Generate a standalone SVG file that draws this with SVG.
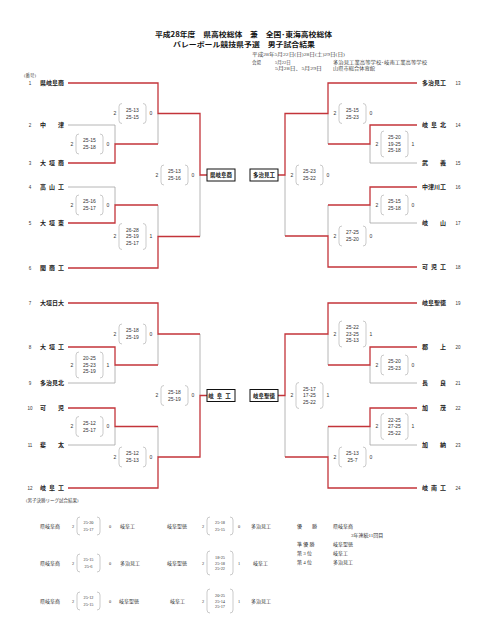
<svg xmlns="http://www.w3.org/2000/svg" width="480" height="640" viewBox="0 0 480 640">
<style>
.r{stroke:#c3343a;stroke-width:1.3;fill:none}
.g{stroke:#a3a3a3;stroke-width:0.8;fill:none}
.pa{stroke:#b5b5b5;stroke-width:0.7;fill:none}
.nm{font-family:'Noto Sans CJK JP',sans-serif;font-size:6px;font-weight:bold;fill:#222}
.no{font-family:'Liberation Sans',sans-serif;font-size:4.5px;fill:#333;text-anchor:middle}
.sc{font-family:'Liberation Sans',sans-serif;font-size:5px;fill:#333;text-anchor:middle}
.sn{font-family:'Liberation Sans',sans-serif;font-size:5px;fill:#333;text-anchor:middle}
.bx{fill:#fff;stroke:#111;stroke-width:1}
.bt{font-family:'Noto Sans CJK JP',sans-serif;font-size:5.5px;font-weight:bold;fill:#111;text-anchor:middle}
.hd{font-family:'Noto Sans CJK JP',sans-serif;font-size:7px;font-weight:bold;fill:#111}
.sm{font-family:'Liberation Serif','Noto Sans CJK JP',serif;font-size:4.5px;fill:#444}
.ft{font-family:'Liberation Serif','Noto Sans CJK JP',serif;font-size:5px;fill:#333}
.fs{font-family:'Liberation Serif','Noto Sans CJK JP',serif;font-size:4.3px;fill:#333;text-anchor:middle}
</style>
<rect width="480" height="640" fill="#fff"/>

<g id="header">
<text class="hd" x="155" y="37" textLength="177" lengthAdjust="spacingAndGlyphs">平成28年度　県高校総体　兼　全国･東海高校総体</text>
<text class="hd" x="173" y="47" textLength="142" lengthAdjust="spacingAndGlyphs">バレーボール競技県予選　男子試合結果</text>
<text class="sm" x="252" y="55.8" textLength="93" lengthAdjust="spacingAndGlyphs">平成28年5月22日(日)28日(土)29日(日)</text>
<text class="sm" x="252" y="63.6">会場</text>
<text class="sm" x="275" y="63.6">5月22日</text>
<text class="sm" x="333" y="63.6" textLength="94" lengthAdjust="spacingAndGlyphs">多治見工業高等学校･岐南工業高等学校</text>
<text class="sm" x="275" y="69.6" textLength="47" lengthAdjust="spacingAndGlyphs">5月28日、5月29日</text>
<text class="sm" x="333" y="69.6" textLength="42" lengthAdjust="spacingAndGlyphs">山県市総合体育館</text>
<text class="sm" x="24" y="76.5">(番号)</text>
</g>

<g id="connectors">
<path class="g" d="M68 125H115M68 187H115M68 383H115M68 445H115M115 125V144M158 113.5V144M115 187V205M158 205V236.5M200 175V236.5M115 365V383M158 334V365M115 426.5V445M158 426.5V457M200 334V395.5"/>
<path class="g" d="M370 163H417M370 223H417M370 383H417M370 445H417M370 144V163M328 113.5V144M370 205V223M328 205V236M285 175V236M370 365V383M328 334V365M370 426.5V445M328 426.5V457M285 395.5V457"/>
<path class="r" d="M68 83H158V113.5H200V175H207M68 163H115V144H158M68 223H115V205H158M68 268H158V236.5H200"/>
<path class="r" d="M68 303H158V334H200M68 347H115V365H158M68 408H115V426.5H158M68 488H158V457H200V395.5H207"/>
<path class="r" d="M417 83H328V113.5H285V175H277M417 125H370V144H328M417 187H370V205H328M417 267H328V236H285"/>
<path class="r" d="M417 303H328V334H285V395.5H277M417 347H370V365H328M417 408H370V426.5H328M417 488H328V457H285"/>
</g>

<g id="t1"><text class="no" x="30" y="84.6">1</text><text class="nm" x="40" y="85.1">県岐阜商</text></g>
<g id="t2"><text class="no" x="30" y="126.6">2</text><text class="nm" x="40 58" y="127.1">中津</text></g>
<g id="t3"><text class="no" x="30" y="164.6">3</text><text class="nm" x="40 49 58" y="165.1">大垣商</text></g>
<g id="t4"><text class="no" x="30" y="188.6">4</text><text class="nm" x="40 49 58" y="189.1">高山工</text></g>
<g id="t5"><text class="no" x="30" y="224.6">5</text><text class="nm" x="40 49 58" y="225.1">大垣東</text></g>
<g id="t6"><text class="no" x="30" y="269.6">6</text><text class="nm" x="40 49 58" y="270.1">関商工</text></g>
<g id="t7"><text class="no" x="30" y="304.6">7</text><text class="nm" x="40" y="305.1">大垣日大</text></g>
<g id="t8"><text class="no" x="30" y="348.6">8</text><text class="nm" x="40 49 58" y="349.1">大垣工</text></g>
<g id="t9"><text class="no" x="30" y="384.6">9</text><text class="nm" x="40" y="385.1">多治見北</text></g>
<g id="t10"><text class="no" x="30" y="409.6">10</text><text class="nm" x="40 58" y="410.1">可児</text></g>
<g id="t11"><text class="no" x="30" y="446.6">11</text><text class="nm" x="40 58" y="447.1">斐太</text></g>
<g id="t12"><text class="no" x="30" y="489.6">12</text><text class="nm" x="40 49 58" y="490.1">岐阜工</text></g>

<g id="t13"><text class="nm" x="422" y="85.1">多治見工</text><text class="no" x="458" y="84.6">13</text></g>
<g id="t14"><text class="nm" x="422 431 440" y="127.1">岐阜北</text><text class="no" x="458" y="126.6">14</text></g>
<g id="t15"><text class="nm" x="422 440" y="165.1">武義</text><text class="no" x="458" y="164.6">15</text></g>
<g id="t16"><text class="nm" x="422" y="189.1">中津川工</text><text class="no" x="458" y="188.6">16</text></g>
<g id="t17"><text class="nm" x="422 440" y="225.1">岐山</text><text class="no" x="458" y="224.6">17</text></g>
<g id="t18"><text class="nm" x="422 431 440" y="269.1">可児工</text><text class="no" x="458" y="268.6">18</text></g>
<g id="t19"><text class="nm" x="422" y="305.1">岐阜聖徳</text><text class="no" x="458" y="304.6">19</text></g>
<g id="t20"><text class="nm" x="422 440" y="349.1">郡上</text><text class="no" x="458" y="348.6">20</text></g>
<g id="t21"><text class="nm" x="422 440" y="385.1">長良</text><text class="no" x="458" y="384.6">21</text></g>
<g id="t22"><text class="nm" x="422 440" y="410.1">加茂</text><text class="no" x="458" y="409.6">22</text></g>
<g id="t23"><text class="nm" x="422 440" y="447.1">加納</text><text class="no" x="458" y="446.6">23</text></g>
<g id="t24"><text class="nm" x="422 431 440" y="490.1">岐南工</text><text class="no" x="458" y="489.6">24</text></g>

<g id="w1"><rect class="bx" x="207" y="169" width="28" height="12"/><text class="bt" x="221" y="177">県岐阜商</text></g>
<g id="w2"><rect class="bx" x="250" y="169" width="28" height="12"/><text class="bt" x="264" y="177">多治見工</text></g>
<g id="w3"><rect class="bx" x="207" y="389.5" width="28" height="12"/><text class="bt" x="221" y="397.5" letter-spacing="3">岐阜工</text></g>
<g id="w4"><rect class="bx" x="250" y="389.5" width="28" height="12"/><text class="bt" x="264" y="397.5">岐阜聖徳</text></g>

<g id="mA"><text class="sn" x="72" y="145.6">2</text><path class="pa" d="M79 134Q76 134 76 137L76 151Q76 154 79 154M100 134Q103 134 103 137L103 151Q103 154 100 154"/><text class="sc"><tspan x="89.5" y="142">25-15</tspan><tspan x="89.5" y="149">25-18</tspan></text><text class="sn" x="108" y="145.6">0</text></g>
<g id="mB"><text class="sn" x="115" y="115.1">2</text><path class="pa" d="M122 103.5Q119 103.5 119 106.5L119 120.5Q119 123.5 122 123.5M143 103.5Q146 103.5 146 106.5L146 120.5Q146 123.5 143 123.5"/><text class="sc"><tspan x="132.5" y="111.5">25-13</tspan><tspan x="132.5" y="118.5">25-15</tspan></text><text class="sn" x="151" y="115.1">0</text></g>
<g id="mC"><text class="sn" x="72" y="206.6">2</text><path class="pa" d="M79 195Q76 195 76 198L76 212Q76 215 79 215M100 195Q103 195 103 198L103 212Q103 215 100 215"/><text class="sc"><tspan x="89.5" y="203">25-16</tspan><tspan x="89.5" y="210">25-17</tspan></text><text class="sn" x="108" y="206.6">0</text></g>
<g id="mD"><text class="sn" x="115" y="238.1">2</text><path class="pa" d="M122 223.5Q119 223.5 119 226.5L119 246.5Q119 249.5 122 249.5M143 223.5Q146 223.5 146 226.5L146 246.5Q146 249.5 143 249.5"/><text class="sc"><tspan x="132.5" y="231.7">26-28</tspan><tspan x="132.5" y="238.2">25-19</tspan><tspan x="132.5" y="244.7">25-17</tspan></text><text class="sn" x="151" y="238.1">1</text></g>
<g id="mLS1"><text class="sn" x="157" y="176.6">2</text><path class="pa" d="M164 165Q161 165 161 168L161 182Q161 185 164 185M185 165Q188 165 188 168L188 182Q188 185 185 185"/><text class="sc"><tspan x="174.5" y="173">25-13</tspan><tspan x="174.5" y="180">25-16</tspan></text><text class="sn" x="193" y="176.6">0</text></g>
<g id="mE"><text class="sn" x="72" y="366.6">2</text><path class="pa" d="M79 352Q76 352 76 355L76 375Q76 378 79 378M100 352Q103 352 103 355L103 375Q103 378 100 378"/><text class="sc"><tspan x="89.5" y="360.2">20-25</tspan><tspan x="89.5" y="366.7">25-23</tspan><tspan x="89.5" y="373.2">25-19</tspan></text><text class="sn" x="108" y="366.6">1</text></g>
<g id="mF"><text class="sn" x="115" y="335.6">2</text><path class="pa" d="M122 324Q119 324 119 327L119 341Q119 344 122 344M143 324Q146 324 146 327L146 341Q146 344 143 344"/><text class="sc"><tspan x="132.5" y="332">25-18</tspan><tspan x="132.5" y="339">25-19</tspan></text><text class="sn" x="151" y="335.6">0</text></g>
<g id="mG"><text class="sn" x="72" y="428.1">2</text><path class="pa" d="M79 416.5Q76 416.5 76 419.5L76 433.5Q76 436.5 79 436.5M100 416.5Q103 416.5 103 419.5L103 433.5Q103 436.5 100 436.5"/><text class="sc"><tspan x="89.5" y="424.5">25-12</tspan><tspan x="89.5" y="431.5">25-17</tspan></text><text class="sn" x="108" y="428.1">0</text></g>
<g id="mH"><text class="sn" x="115" y="458.6">2</text><path class="pa" d="M122 447Q119 447 119 450L119 464Q119 467 122 467M143 447Q146 447 146 450L146 464Q146 467 143 467"/><text class="sc"><tspan x="132.5" y="455">25-12</tspan><tspan x="132.5" y="462">25-13</tspan></text><text class="sn" x="151" y="458.6">0</text></g>
<g id="mLS2"><text class="sn" x="157" y="397.1">2</text><path class="pa" d="M164 385.5Q161 385.5 161 388.5L161 402.5Q161 405.5 164 405.5M185 385.5Q188 385.5 188 388.5L188 402.5Q188 405.5 185 405.5"/><text class="sc"><tspan x="174.5" y="393.5">25-18</tspan><tspan x="174.5" y="400.5">25-19</tspan></text><text class="sn" x="193" y="397.1">0</text></g>

<g id="mRA"><text class="sn" x="377" y="145.6">2</text><path class="pa" d="M384 131Q381 131 381 134L381 154Q381 157 384 157M405 131Q408 131 408 134L408 154Q408 157 405 157"/><text class="sc"><tspan x="394.5" y="139.2">25-20</tspan><tspan x="394.5" y="145.7">19-25</tspan><tspan x="394.5" y="152.2">25-18</tspan></text><text class="sn" x="413" y="145.6">1</text></g>
<g id="mRB"><text class="sn" x="335" y="115.1">2</text><path class="pa" d="M342 103.5Q339 103.5 339 106.5L339 120.5Q339 123.5 342 123.5M363 103.5Q366 103.5 366 106.5L366 120.5Q366 123.5 363 123.5"/><text class="sc"><tspan x="352.5" y="111.5">25-15</tspan><tspan x="352.5" y="118.5">25-23</tspan></text><text class="sn" x="371" y="115.1">0</text></g>
<g id="mRC"><text class="sn" x="377" y="206.6">2</text><path class="pa" d="M384 195Q381 195 381 198L381 212Q381 215 384 215M405 195Q408 195 408 198L408 212Q408 215 405 215"/><text class="sc"><tspan x="394.5" y="203">25-15</tspan><tspan x="394.5" y="210">25-18</tspan></text><text class="sn" x="413" y="206.6">0</text></g>
<g id="mRD"><text class="sn" x="335" y="237.6">2</text><path class="pa" d="M342 226Q339 226 339 229L339 243Q339 246 342 246M363 226Q366 226 366 229L366 243Q366 246 363 246"/><text class="sc"><tspan x="352.5" y="234">27-25</tspan><tspan x="352.5" y="241">25-20</tspan></text><text class="sn" x="371" y="237.6">0</text></g>
<g id="mRS1"><text class="sn" x="292" y="176.6">2</text><path class="pa" d="M299 165Q296 165 296 168L296 182Q296 185 299 185M320 165Q323 165 323 168L323 182Q323 185 320 185"/><text class="sc"><tspan x="309.5" y="173">25-23</tspan><tspan x="309.5" y="180">25-22</tspan></text><text class="sn" x="328" y="176.6">0</text></g>
<g id="mRE"><text class="sn" x="377" y="366.6">2</text><path class="pa" d="M384 355Q381 355 381 358L381 372Q381 375 384 375M405 355Q408 355 408 358L408 372Q408 375 405 375"/><text class="sc"><tspan x="394.5" y="363">25-20</tspan><tspan x="394.5" y="370">25-23</tspan></text><text class="sn" x="413" y="366.6">0</text></g>
<g id="mRF"><text class="sn" x="335" y="335.6">2</text><path class="pa" d="M342 321Q339 321 339 324L339 344Q339 347 342 347M363 321Q366 321 366 324L366 344Q366 347 363 347"/><text class="sc"><tspan x="352.5" y="329.2">25-22</tspan><tspan x="352.5" y="335.7">23-25</tspan><tspan x="352.5" y="342.2">25-13</tspan></text><text class="sn" x="371" y="335.6">1</text></g>
<g id="mRG"><text class="sn" x="377" y="428.1">2</text><path class="pa" d="M384 413.5Q381 413.5 381 416.5L381 436.5Q381 439.5 384 439.5M405 413.5Q408 413.5 408 416.5L408 436.5Q408 439.5 405 439.5"/><text class="sc"><tspan x="394.5" y="421.7">22-25</tspan><tspan x="394.5" y="428.2">27-25</tspan><tspan x="394.5" y="434.7">25-22</tspan></text><text class="sn" x="413" y="428.1">1</text></g>
<g id="mRH"><text class="sn" x="335" y="458.6">2</text><path class="pa" d="M342 447Q339 447 339 450L339 464Q339 467 342 467M363 447Q366 447 366 450L366 464Q366 467 363 467"/><text class="sc"><tspan x="352.5" y="455">25-13</tspan><tspan x="352.5" y="462">25-7</tspan></text><text class="sn" x="371" y="458.6">0</text></g>
<g id="mRS2"><text class="sn" x="292" y="397.1">2</text><path class="pa" d="M299 382.5Q296 382.5 296 385.5L296 405.5Q296 408.5 299 408.5M320 382.5Q323 382.5 323 385.5L323 405.5Q323 408.5 320 408.5"/><text class="sc"><tspan x="309.5" y="390.7">25-17</tspan><tspan x="309.5" y="397.2">17-25</tspan><tspan x="309.5" y="403.7">25-22</tspan></text><text class="sn" x="328" y="397.1">1</text></g>

<g id="final-league">
<text class="sm" x="26" y="501.5">(男子決勝リーグ試合結果)</text>
<g id="f1">
<text class="ft" x="40" y="528">県岐阜商</text><text class="fs" x="73" y="527.6">2</text>
<path class="pa" d="M80 517Q77 517 77 520L77 532Q77 535 80 535M97 517Q100 517 100 520L100 532Q100 535 97 535"/>
<text class="fs"><tspan x="88.5" y="524.4">25-20</tspan><tspan x="88.5" y="530.8">25-17</tspan></text>
<text class="fs" x="110" y="527.6">0</text><text class="ft" x="120" y="528">岐阜工</text>
</g>
<g id="f2">
<text class="ft" x="167" y="528">岐阜聖徳</text><text class="fs" x="203" y="527.6">2</text>
<path class="pa" d="M210 517Q207 517 207 520L207 532Q207 535 210 535M230 517Q233 517 233 520L233 532Q233 535 230 535"/>
<text class="fs"><tspan x="220" y="524.4">25-18</tspan><tspan x="220" y="530.8">25-15</tspan></text>
<text class="fs" x="239" y="527.6">0</text><text class="ft" x="251" y="528">多治見工</text>
</g>
<g id="f3">
<text class="ft" x="40" y="565">県岐阜商</text><text class="fs" x="73" y="564.6">2</text>
<path class="pa" d="M80 554Q77 554 77 557L77 569Q77 572 80 572M97 554Q100 554 100 557L100 569Q100 572 97 572"/>
<text class="fs"><tspan x="88.5" y="561.4">25-15</tspan><tspan x="88.5" y="567.8">25-6</tspan></text>
<text class="fs" x="110" y="564.6">0</text><text class="ft" x="120" y="565">多治見工</text>
</g>
<g id="f4">
<text class="ft" x="167" y="565">岐阜聖徳</text><text class="fs" x="203" y="564.6">2</text>
<path class="pa" d="M210 551Q207 551 207 554L207 572Q207 575 210 575M230 551Q233 551 233 554L233 572Q233 575 230 575"/>
<text class="fs"><tspan x="220" y="559.1">18-25</tspan><tspan x="220" y="564.6">25-18</tspan><tspan x="220" y="570.1">25-22</tspan></text>
<text class="fs" x="239" y="564.6">1</text><text class="ft" x="253" y="565">岐阜工</text>
</g>
<g id="f5">
<text class="ft" x="40" y="603">県岐阜商</text><text class="fs" x="73" y="602.6">2</text>
<path class="pa" d="M80 592Q77 592 77 595L77 607Q77 610 80 610M97 592Q100 592 100 595L100 607Q100 610 97 610"/>
<text class="fs"><tspan x="88.5" y="599.4">25-12</tspan><tspan x="88.5" y="605.8">25-15</tspan></text>
<text class="fs" x="110" y="602.6">0</text><text class="ft" x="119" y="603">岐阜聖徳</text>
</g>
<g id="f6">
<text class="ft" x="170" y="603">岐阜工</text><text class="fs" x="203" y="602.6">2</text>
<path class="pa" d="M210 589Q207 589 207 592L207 610Q207 613 210 613M230 589Q233 589 233 592L233 610Q233 613 230 613"/>
<text class="fs"><tspan x="220" y="597.1">20-25</tspan><tspan x="220" y="602.6">25-14</tspan><tspan x="220" y="608.1">25-17</tspan></text>
<text class="fs" x="239" y="602.6">1</text><text class="ft" x="251" y="603">多治見工</text>
</g>
</g>

<g id="ranking">
<text class="ft" x="297" y="528">優　　勝</text><text class="ft" x="333" y="528">県岐阜商</text>
<text class="ft" x="351" y="537">3年連続11回目</text>
<text class="ft" x="297" y="546">準 優 勝</text><text class="ft" x="333" y="546">岐阜聖徳</text>
<text class="ft" x="297" y="555">第 3 位</text><text class="ft" x="333" y="555">岐阜工</text>
<text class="ft" x="297" y="564">第 4 位</text><text class="ft" x="333" y="564">多治見工</text>
</g>
</svg>
